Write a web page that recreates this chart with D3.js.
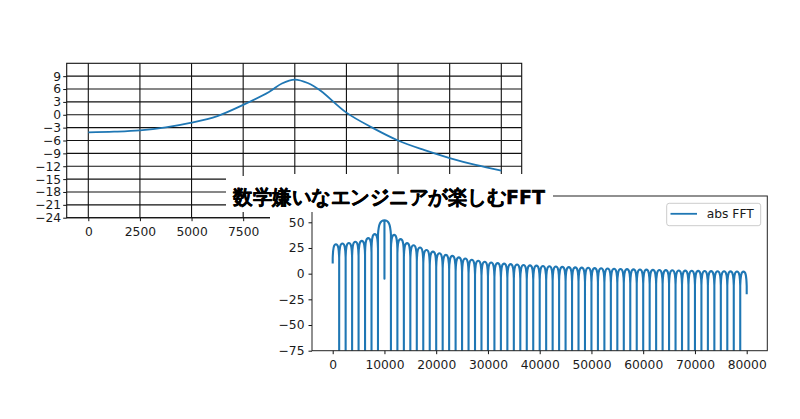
<!DOCTYPE html>
<html><head><meta charset="utf-8">
<script src="https://cdn.jsdelivr.net/npm/d3@7"></script>
<style>
body{margin:0;background:#fff}
svg{display:block}
text{font-family:"DejaVu Sans",sans-serif}
</style>
</head><body>
<svg id="c" width="800" height="419"></svg>
<script>
// ---------- data: top chart (frequency response, dB) ----------
const respFreq = [0,1250,2500,3750,5000,6250,7500,8750,9375,10000,10625,11250,12500,13750,15000,16250,17500,18750,20000];
const respDb   = [-4.1,-3.95,-3.65,-2.95,-1.85,-0.3,2.3,5.3,7.3,8.2,7.4,5.6,0.5,-3.0,-6.0,-8.2,-10.1,-11.7,-13.0];
const xTicks1 = [0,2500,5000,7500,10000,12500,15000,17500,20000];
const yTicks1 = [-24,-21,-18,-15,-12,-9,-6,-3,0,3,6,9];

// ---------- data: bottom chart (abs FFT, dB) ----------
const binEdges = [0,1250,2500,3750,5000,6250,7500,8750,10000,11250,12500,13750,15000,16250,17500,18750,
  20000,21250,22500,23750,25000,26250,27500,28750,30000,31250,32500,33750,35000,36250,37500,38750,
  40000,41250,42500,43750,45000,46250,47500,48750,50000,51250,52500,53750,55000,56250,57500,58750,
  60000,61250,62500,63750,65000,66250,67500,68750,70000,71250,72500,73750,75000,76250,77500,78750,80000];
// value at each edge (deep notches go far below the axis)
const edgeDb = [9.8,-120,-120,-120,-120,-120,-120,-120,-5,-120,-120,-120,-120,-120,-120,-120,
  -120,-120,-120,-120,-120,-120,-120,-120,-120,-120,-120,-120,-120,-120,-120,-120,
  -120,-120,-120,-120,-120,-120,-120,-120,-120,-120,-120,-120,-120,-120,-120,-120,
  -120,-120,-120,-120,-120,-120,-120,-120,-120,-120,-120,-120,-120,-120,-120,-120,-20];
// peak of each lobe between edges
const lobePeakDb = [28.7,29.3,29.8,31.0,31.9,34.6,38.5,52.0,52.0,37.8,33.6,29.7,27.7,25.4,23.1,21.5,
  19.8,18.3,17.3,15.9,14.8,13.5,12.5,11.6,10.9,10.3,9.8,9.3,8.9,8.5,8.1,7.8,
  7.5,7.2,6.9,6.6,6.4,6.1,5.9,5.7,5.4,5.2,5.0,4.8,4.6,4.4,4.2,4.1,
  3.9,3.7,3.6,3.4,3.3,3.1,3.0,2.9,2.7,2.6,2.5,2.4,2.3,2.2,2.1,2.0];
const xTicks2 = [0,10000,20000,30000,40000,50000,60000,70000,80000];
const yTicks2 = [-75,-50,-25,0,25,50];
const titleText = "数学嫌いなエンジニアが楽しむFFT";
const legendText = "abs FFT";

const BLUE = "#1f77b4";
const INK = "#111";
const svg = d3.select("#c");
const fmt = d => d < 0 ? "\u2212" + Math.abs(d) : String(d);

// ================= top chart =================
const L1 = 66.7, R1 = 521.7, T1 = 63.3, B1 = 217.7;
const x1 = d3.scaleLinear().domain([0,20000]).range([88.3,501.3]);
const y1 = d3.scaleLinear().domain([-24,12]).range([B1,T1]);
const g1 = svg.append("g");

g1.selectAll("line.vg").data(xTicks1).join("line")
  .attr("x1", d => x1(d)).attr("x2", d => x1(d)).attr("y1", T1).attr("y2", B1)
  .attr("stroke", INK).attr("stroke-width", 1.1);
g1.selectAll("line.hg").data(yTicks1).join("line")
  .attr("x1", L1).attr("x2", R1).attr("y1", d => y1(d)).attr("y2", d => y1(d))
  .attr("stroke", INK).attr("stroke-width", 1.1);

// labels right of 7500 are hidden under the second figure in the reference
const ax1 = g1.append("g").attr("transform", `translate(0,${B1})`)
  .call(d3.axisBottom(x1).tickValues(xTicks1).tickSize(3.5).tickPadding(6)
        .tickFormat(d => d <= 7500 ? fmt(d) : ""));
const ay1 = g1.append("g").attr("transform", `translate(${L1},0)`)
  .call(d3.axisLeft(y1).tickValues(yTicks1).tickSize(3.5).tickPadding(2).tickFormat(fmt));
[ax1, ay1].forEach(a => {
  a.select(".domain").remove();
  a.selectAll("line").attr("stroke", INK);
  a.selectAll("text").attr("font-size", 12.3).attr("fill", "#1a1a1a")
   .attr("font-family", "DejaVu Sans");
});
g1.append("rect").attr("x", L1).attr("y", T1).attr("width", R1-L1).attr("height", B1-T1)
  .attr("fill", "none").attr("stroke", INK).attr("stroke-width", 1.1);

g1.append("path").datum(respFreq.map((f,i) => [f, respDb[i]]))
  .attr("fill", "none").attr("stroke", BLUE).attr("stroke-width", 1.8)
  .attr("d", d3.line().x(d => x1(d[0])).y(d => y1(d[1])).curve(d3.curveCatmullRom.alpha(0.5)));

// ================= bottom chart =================
svg.append("rect").attr("x", 270).attr("y", 174).attr("width", 530).attr("height", 245).attr("fill", "#fff");

const L2 = 312, R2 = 767.3, T2 = 196, B2 = 350.7;
const x2 = d3.scaleLinear().domain([0,80000]).range([332.7,746.7]);
const y2 = d3.scaleLinear().domain([-75,50]).range([B2,222.3]);
const g2 = svg.append("g");

svg.append("defs").append("clipPath").attr("id", "clip2")
  .append("rect").attr("x", L2).attr("y", T2).attr("width", R2-L2).attr("height", B2-T2);

// lobe path: each lobe rises from its edges and arches to its peak;
// a shallow inner dip splits one wide arch in two
const nE = binEdges.length;
const shallow = j => j > 0 && j < nE - 1 && edgeDb[j] > -60;
let d = "";
for (let i = 0; i < lobePeakDb.length; i++) {
  const X0 = x2(binEdges[i]), X1 = x2(binEdges[i+1]);
  const w = X1 - X0, Xm = (X0 + X1) / 2;
  const p = lobePeakDb[i], s = p - 14;
  if (i === 0) d += `M${X0},${y2(edgeDb[0])}`;
  if (shallow(i)) {
    d += `L${X0},${y2(p)}`;
    d += `C${X0 + 0.6*w},${y2(p)} ${X1 - 0.1*w},${y2(p - 3)} ${X1},${y2(s)}`;
  } else if (shallow(i+1)) {
    d += `L${X0},${y2(s)}`;
    d += `C${X0 + 0.1*w},${y2(p - 3)} ${X0 + 0.4*w},${y2(p)} ${X1},${y2(p)}`;
  } else {
    d += `L${X0},${y2(s)}`;
    d += `C${X0 + 0.05*w},${y2(p - 3)} ${X0 + 0.2*w},${y2(p)} ${Xm},${y2(p)}`;
    d += `C${X1 - 0.2*w},${y2(p)} ${X1 - 0.05*w},${y2(p - 3)} ${X1},${y2(s)}`;
  }
  d += `L${X1},${y2(edgeDb[i+1])}`;
}
g2.append("path").attr("d", d).attr("clip-path", "url(#clip2)")
  .attr("fill", "none").attr("stroke", BLUE).attr("stroke-width", 2.1)
  .attr("stroke-linejoin", "round");

const ax2 = g2.append("g").attr("transform", `translate(0,${B2})`)
  .call(d3.axisBottom(x2).tickValues(xTicks2).tickSize(3.5).tickPadding(6).tickFormat(fmt));
const ay2 = g2.append("g").attr("transform", `translate(${L2},0)`)
  .call(d3.axisLeft(y2).tickValues(yTicks2).tickSize(3.5).tickPadding(4).tickFormat(fmt));
[ax2, ay2].forEach(a => {
  a.select(".domain").remove();
  a.selectAll("line").attr("stroke", INK);
  a.selectAll("text").attr("font-size", 12.3).attr("fill", "#1a1a1a")
   .attr("font-family", "DejaVu Sans");
});
g2.append("rect").attr("x", L2).attr("y", T2).attr("width", R2-L2).attr("height", B2-T2)
  .attr("fill", "none").attr("stroke", "#222").attr("stroke-width", 1);

// legend
const lg = g2.append("g");
lg.append("rect").attr("x", 666.7).attr("y", 203.3).attr("width", 94).attr("height", 22.4)
  .attr("rx", 2.5).attr("fill", "#fff").attr("fill-opacity", 0.8)
  .attr("stroke", "#cccccc").attr("stroke-width", 1);
lg.append("line").attr("x1", 670.5).attr("x2", 697).attr("y1", 213.8).attr("y2", 213.8)
  .attr("stroke", BLUE).attr("stroke-width", 1.8);
lg.append("text").attr("x", 706.7).attr("y", 218.2).attr("font-size", 12.3)
  .attr("fill", "#1a1a1a").text(legendText);

// title with white background box
svg.append("rect").attr("x", 226).attr("y", 176).attr("width", 327).attr("height", 36).attr("fill", "#fff");
svg.append("text").attr("x", 233).attr("y", 203.5)
  .attr("font-family", "'Noto Sans CJK JP', sans-serif").attr("font-weight", "bold")
  .attr("font-size", 19.5).attr("textLength", 312).attr("lengthAdjust", "spacingAndGlyphs")
  .attr("fill", "#000").attr("stroke", "#000").attr("stroke-width", 0.45)
  .attr("stroke-linejoin", "round").text(titleText);
</script>
</body></html>
